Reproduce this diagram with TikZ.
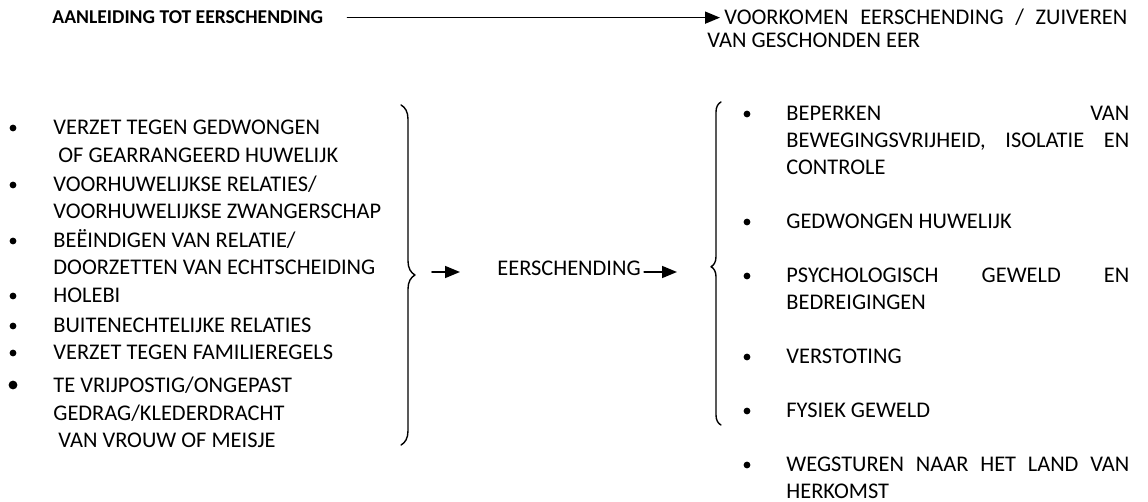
\documentclass[tikz,border=0pt]{standalone}
\usepackage{fontspec}
\setmainfont{Carlito}
\usetikzlibrary{arrows.meta,decorations.pathreplacing}
\newcommand{\uitvul}[1]{\makebox[171.5pt][s]{#1}}

\begin{document}
\begin{tikzpicture}[x=0.5pt,y=-0.5pt,line join=round,line cap=round,
	font=\fontsize{11.2}{13.5}\selectfont,
	tekst/.style={anchor=base west,inner sep=0pt},
	pijl/.style={line width=0.8pt,-{Triangle[length=7.5pt,width=6pt]}},
	accolade/.style={line width=0.7pt,decorate,decoration={brace,amplitude=#1}}]
	\useasboundingbox (0,0) rectangle (1148,502);
	\path
	(415,272) coordinate (ltip)
	(711,272) coordinate (rtip)
	;
	% bovenste regel
	\node[tekst,font=\fontsize{9.8}{12}\selectfont\bfseries] (titel) at (52,24) {AANLEIDING TOT EERSCHENDING};
	\node[tekst] (doel1) at (724,25) {\makebox[201.5pt][s]{VOORKOMEN EERSCHENDING / ZUIVEREN}};
	\node[tekst] (doel2) at (707,48) {VAN GESCHONDEN EER};
	\draw[pijl,shorten <=12pt,shorten >=2pt] (titel.east) -- (titel.east -| doel1.west);
	% oorzaken
	\foreach \y/\t [count=\i] in {135/{VERZET TEGEN GEDWONGEN},163/{\hspace*{2.5pt}OF GEARRANGEERD HUWELIJK},
		192/{VOORHUWELIJKSE RELATIES/},219/{VOORHUWELIJKSE ZWANGERSCHAP},
		248/{BEËINDIGEN VAN RELATIE/},275/{DOORZETTEN VAN ECHTSCHEIDING},
		303/{HOLEBI},333/{BUITENECHTELIJKE RELATIES},360/{VERZET TEGEN FAMILIEREGELS},
		393/{TE VRIJPOSTIG/ONGEPAST},421/{GEDRAG/KLEDERDRACHT},448/{\hspace*{2.5pt}VAN VROUW OF MEISJE}}
	\node[tekst] (a\i) at (53,\y) {\t};
	\foreach \y in {135,192,248,303,333,360}
	\fill (13,\y-7) circle (1.7pt);
	\fill (13,393-8) circle (2.2pt);
	\draw[accolade=7pt] (401,105) -- (401,445);
	% midden
	\node[tekst] (eer) at (497,276) {EERSCHENDING};
	\draw[pijl,shorten <=8.5pt,shorten >=18.5pt] (ltip) -- (ltip -| eer.west);
	\draw[pijl,shorten <=1.5pt,shorten >=17pt] (eer.east |- rtip) -- (rtip);
	% gevolgen
	\draw[accolade=5pt,decoration={aspect=0.49}] (721,425) -- (721,102);
	\foreach \y/\t [count=\i] in {121/{\uitvul{BEPERKEN VAN}},148/{\uitvul{BEWEGINGSVRIJHEID, ISOLATIE EN}},
		175/{CONTROLE},229/{GEDWONGEN HUWELIJK},
		283/{\uitvul{PSYCHOLOGISCH GEWELD EN}},310/{BEDREIGINGEN},
		364/{VERSTOTING},418/{FYSIEK GEWELD},
		472/{\uitvul{WEGSTUREN NAAR HET LAND VAN}},499/{HERKOMST}}
	\node[tekst] (g\i) at (786,\y) {\t};
	\foreach \y in {121,229,283,364,418,472}
	\fill (747,\y-7) circle (1.7pt);
\end{tikzpicture}
\end{document}
